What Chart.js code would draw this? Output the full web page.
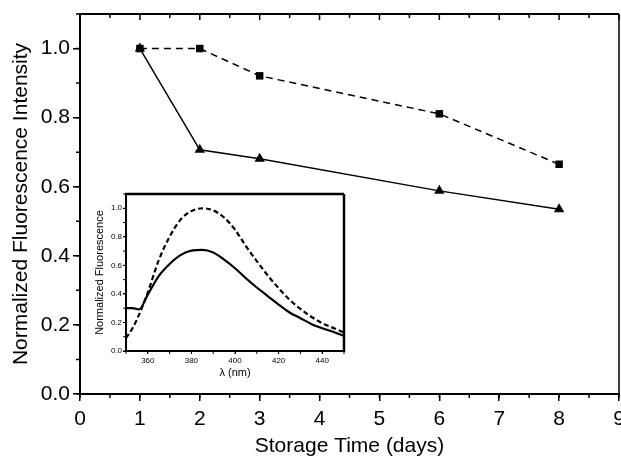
<!DOCTYPE html>
<html>
<head>
<meta charset="utf-8">
<script src="https://cdn.jsdelivr.net/npm/chart.js@4.4.1/dist/chart.umd.min.js"></script>
<style>
  html, body { margin: 0; padding: 0; background: #fff; }
  #wrap { position: relative; width: 621px; height: 457px; overflow: hidden; }
  #main { position: absolute; left: 0; top: 0; }
  #inset { position: absolute; left: 90px; top: 185px; }
</style>
</head>
<body>
<div id="wrap">
  <canvas id="main" width="627" height="457"></canvas>
  <canvas id="inset" width="260" height="195"></canvas>
</div>
<script>
// main plot: normalized intensity vs storage time
const days = [1, 2, 3, 6, 8];
const squareVals = [1.0, 1.0, 0.921, 0.811, 0.665];
const triangleVals = [1.0, 0.707, 0.681, 0.588, 0.535];
const dayTicks = [0, 1, 2, 3, 4, 5, 6, 7, 8, 9];
const intensityTicks = [0, 0.2, 0.4, 0.6, 0.8, 1.0];

// inset: emission spectra
const wavelengths = [350, 353, 356, 360, 365, 370, 375, 380, 385, 390, 395, 400, 405, 410, 415, 420, 425, 430, 435, 440, 445, 450];
const dashedSpectrum = [0.09, 0.16, 0.255, 0.41, 0.635, 0.80, 0.92, 0.98, 1.0, 0.985, 0.935, 0.85, 0.735, 0.63, 0.53, 0.44, 0.36, 0.295, 0.24, 0.195, 0.162, 0.13];
const solidSpectrum = [0.30, 0.30, 0.292, 0.395, 0.525, 0.61, 0.672, 0.703, 0.708, 0.69, 0.64, 0.58, 0.51, 0.445, 0.385, 0.325, 0.27, 0.23, 0.19, 0.16, 0.135, 0.105];
const nmTicks = [360, 380, 400, 420, 440];
const fluorTicks = [0, 0.2, 0.4, 0.6, 0.8, 1.0];

Chart.defaults.font.family = '"Liberation Sans", Arial, sans-serif';
Chart.defaults.color = '#000';

const toPoints = (xs, ys) => xs.map((x, i) => ({ x: x, y: ys[i] }));

// top/right frame plus the minor tick marks the library does not draw
function framePlugin(o) {
  return {
    id: 'frame',
    afterDraw(chart) {
      const { ctx, chartArea: a } = chart;
      const x = chart.scales.x, y = chart.scales.y;
      ctx.save();
      ctx.strokeStyle = '#000';
      ctx.lineWidth = o.tickWidth;
      ctx.beginPath();
      for (let v = x.min; v <= x.max + 1e-9; v += o.xMinor) {
        const px = x.getPixelForValue(v);
        ctx.moveTo(px, a.bottom);
        ctx.lineTo(px, a.bottom + o.minorLen);
        if (o.topTicks) {
          const major = Math.abs(v - Math.round(v)) < 1e-6;
          ctx.moveTo(px, a.top);
          ctx.lineTo(px, a.top + (major ? o.majorLen : o.minorLen));
        }
      }
      for (let v = y.min; v <= y.max + 1e-9; v += o.yMinor) {
        const py = y.getPixelForValue(v);
        ctx.moveTo(a.left, py);
        ctx.lineTo(a.left - o.minorLen, py);
      }
      ctx.stroke();
      ctx.lineWidth = o.topWidth;
      ctx.beginPath();
      ctx.moveTo(a.left - 1, a.top);
      ctx.lineTo(a.right, a.top);
      ctx.stroke();
      ctx.lineWidth = o.rightWidth;
      ctx.beginPath();
      ctx.moveTo(a.right, a.top);
      ctx.lineTo(a.right, a.bottom + 1);
      ctx.stroke();
      ctx.restore();
    }
  };
}

new Chart(document.getElementById('main'), {
  type: 'line',
  data: {
    datasets: [
      {
        label: 'squares',
        data: toPoints(days, squareVals),
        borderColor: '#000',
        borderWidth: 1.5,
        borderDash: [7, 5],
        pointStyle: 'rect',
        pointRadius: 5.3,
        pointBackgroundColor: '#000',
        pointBorderWidth: 0,
        order: 2
      },
      {
        label: 'triangles',
        data: toPoints(days, triangleVals),
        borderColor: '#000',
        borderWidth: 1.5,
        pointStyle: 'triangle',
        pointRadius: 6,
        pointBackgroundColor: '#000',
        pointBorderWidth: 0,
        order: 1
      }
    ]
  },
  options: {
    responsive: false,
    animation: false,
    // canvas is 6px wider than the page so the "9" gets cut off like the original
    layout: { padding: { top: 14, right: 8, bottom: 0, left: 0 } },
    plugins: { legend: { display: false }, tooltip: { enabled: false } },
    scales: {
      x: {
        type: 'linear',
        min: 0,
        max: 9,
        afterBuildTicks: s => { s.ticks = dayTicks.map(v => ({ value: v })); },
        afterFit: s => { s.height = 63; s.paddingLeft = 0; s.paddingRight = 0; },
        grid: { drawOnChartArea: false, tickLength: 7, color: '#000', lineWidth: 1.5 },
        border: { color: '#000', width: 2 },
        ticks: { font: { size: 21 }, padding: 6, maxRotation: 0 },
        title: { display: true, text: 'Storage Time (days)', font: { size: 21 }, padding: { top: 0, bottom: -2 } }
      },
      y: {
        min: 0,
        max: 1.1,
        afterBuildTicks: s => { s.ticks = intensityTicks.map(v => ({ value: v })); },
        afterFit: s => { s.width = 80; s.paddingTop = 0; s.paddingBottom = 0; },
        grid: { drawOnChartArea: false, tickLength: 7, color: '#000', lineWidth: 1.5 },
        border: { color: '#000', width: 2 },
        ticks: { font: { size: 21 }, padding: 3, callback: v => v.toFixed(1) },
        title: { display: true, text: 'Normalized Fluorescence Intensity', font: { size: 21 }, padding: { top: 9, bottom: 0 } }
      }
    }
  },
  plugins: [framePlugin({ xMinor: 0.5, yMinor: 0.1, minorLen: 4, majorLen: 6, tickWidth: 1.5, topTicks: true, topWidth: 2, rightWidth: 1.5 })]
});

new Chart(document.getElementById('inset'), {
  type: 'line',
  data: {
    datasets: [
      {
        label: 'dashed',
        data: toPoints(wavelengths, dashedSpectrum),
        borderColor: '#000',
        borderWidth: 2.2,
        borderDash: [5, 3],
        pointRadius: 0,
        cubicInterpolationMode: 'monotone'
      },
      {
        label: 'solid',
        data: toPoints(wavelengths, solidSpectrum),
        borderColor: '#000',
        borderWidth: 2.2,
        pointRadius: 0,
        cubicInterpolationMode: 'monotone'
      }
    ]
  },
  options: {
    responsive: false,
    animation: false,
    layout: { padding: { top: 9, right: 6, bottom: 0, left: 0 } },
    plugins: { legend: { display: false }, tooltip: { enabled: false } },
    scales: {
      x: {
        type: 'linear',
        min: 350,
        max: 450,
        afterBuildTicks: s => { s.ticks = nmTicks.map(v => ({ value: v })); },
        afterFit: s => { s.height = 29; s.paddingLeft = 0; s.paddingRight = 0; },
        grid: { drawOnChartArea: false, tickLength: 3, color: '#000', lineWidth: 1 },
        border: { color: '#000', width: 2 },
        ticks: { font: { size: 8 }, padding: 2, maxRotation: 0 },
        title: { display: true, text: 'λ (nm)', font: { size: 11 }, padding: { top: 0, bottom: 0 } }
      },
      y: {
        min: 0,
        max: 1.1,
        afterBuildTicks: s => { s.ticks = fluorTicks.map(v => ({ value: v })); },
        afterFit: s => { s.width = 36; s.paddingTop = 0; s.paddingBottom = 0; },
        grid: { drawOnChartArea: false, tickLength: 3, color: '#000', lineWidth: 1 },
        border: { color: '#000', width: 2 },
        ticks: { font: { size: 8 }, padding: 1, callback: v => v.toFixed(1) },
        title: { display: true, text: 'Normalized Fluorescence', font: { size: 11 }, padding: { top: 3, bottom: 0 } }
      }
    }
  },
  plugins: [framePlugin({ xMinor: 10, yMinor: 0.1, minorLen: 3, majorLen: 3, tickWidth: 1, topTicks: false, topWidth: 2.5, rightWidth: 2.5 })]
});
</script>
</body>
</html>
